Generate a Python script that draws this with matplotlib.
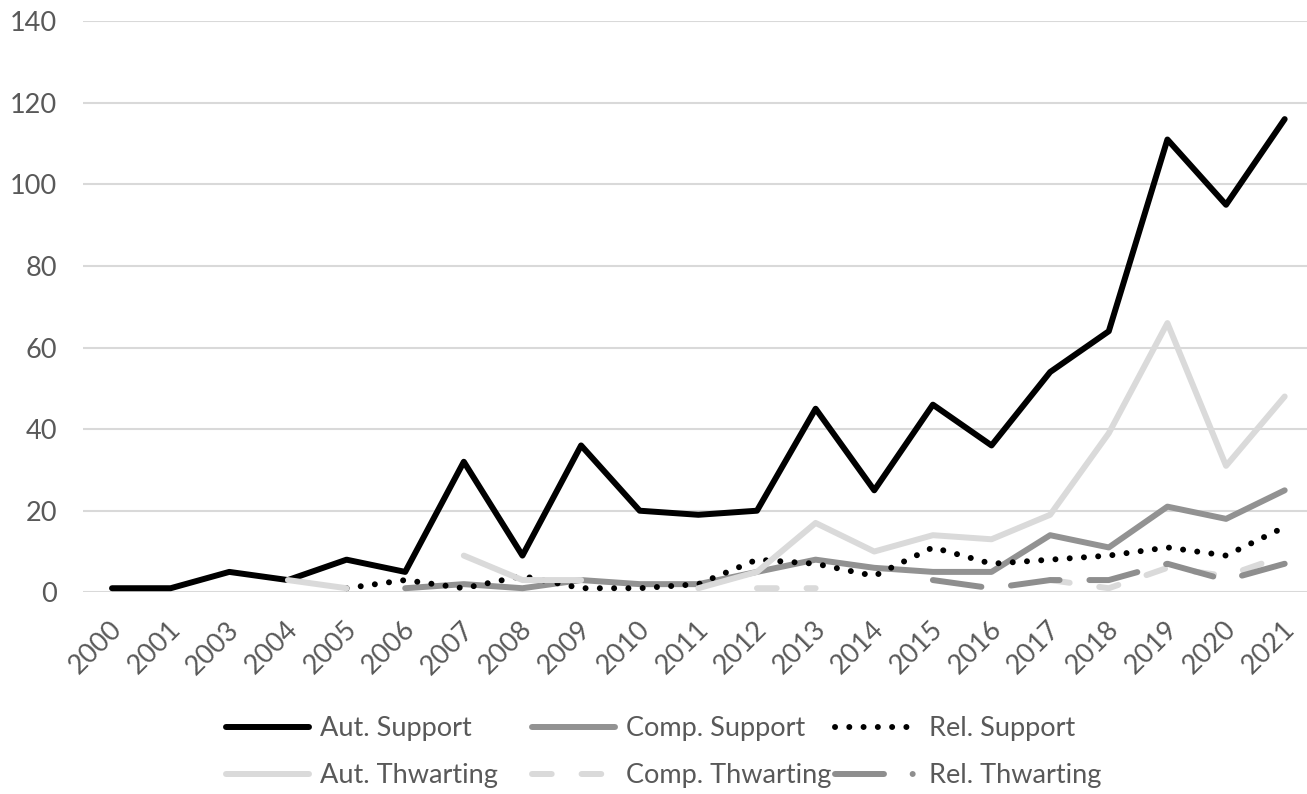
import numpy as np
import matplotlib
matplotlib.use('Agg')
import matplotlib.pyplot as plt
from matplotlib.transforms import ScaledTranslation

plt.rcParams['font.family'] = ['Lato', 'DejaVu Sans']

nan = np.nan
years = ['2000', '2001', '2003', '2004', '2005', '2006', '2007', '2008', '2009', '2010',
         '2011', '2012', '2013', '2014', '2015', '2016', '2017', '2018', '2019', '2020', '2021']

aut_support = [1, 1, 5, 3, 8, 5, 32, 9, 36, 20, 19, 20, 45, 25, 46, 36, 54, 64, 111, 95, 116]
comp_support = [nan, nan, nan, nan, nan, 1, 2, 1, 3, 2, 2, 5, 8, 6, 5, 5, 14, 11, 21, 18, 25]
rel_support = [nan, nan, nan, nan, 1, 3, 1, 4, 1, 1, 2, 8, 7, 4, 11, 7, 8, 9, 11, 9, 16]
aut_thwarting = [nan, nan, nan, 3, 1, nan, 9, 3, 3, nan, 1, 5, 17, 10, 14, 13, 19, 39, 66, 31, 48]
comp_thwarting = [nan] * 11 + [1, 1] + [nan] * 3 + [3, 1, 6, 4, 9]
rel_thwarting = [nan] * 14 + [3, 1, 3, 3, 7, 3, 7]

TXT = '#595959'
GRID = '#d9d9d9'
FS = 19.5
LW = 4.3

W, H = 1307, 794
fig = plt.figure(figsize=(W / 100, H / 100), dpi=100)
ax = fig.add_axes([82.7 / W, 1 - 592.3 / H, (1314 - 82.7) / W, (592.3 - 21.2) / H])

x = np.arange(len(years))
kw = dict(lw=LW, solid_capstyle='round', dash_capstyle='round', solid_joinstyle='round')
l1, = ax.plot(x, aut_support, color='black', label='Aut. Support', **kw)
l2, = ax.plot(x, comp_support, color='#929292', label='Comp. Support', **kw)
l3, = ax.plot(x, rel_support, color='black', ls=(0, (0.01, 2.38)), label='Rel. Support', **kw)
l4, = ax.plot(x, aut_thwarting, color='#dadada', label='Aut. Thwarting', **kw)
l5, = ax.plot(x, comp_thwarting, color='#dadada', ls=(0, (3.3, 5)), label='Comp. Thwarting', **kw)
l6, = ax.plot(x, rel_thwarting, color='#8e8e8e', ls=(0, (8.2, 5)), label='Rel. Thwarting', **kw)

ax.set_xlim(-0.5, len(years) - 0.5)
ax.set_ylim(0, 140)
ax.set_yticks(range(0, 141, 20))
ax.set_xticks(x)
ax.set_xticklabels(years, rotation=45, ha='right', va='center', rotation_mode='anchor')
ax.grid(axis='y', color=GRID, lw=1.5)
ax.set_axisbelow(True)
for s in ax.spines.values():
    s.set_visible(False)
ax.tick_params(axis='both', length=0, labelsize=FS, labelcolor=TXT)
ax.tick_params(axis='y', pad=18.5)
ax.tick_params(axis='x', pad=24)
shift = ScaledTranslation(6 / 100, 0, fig.dpi_scale_trans)
for lbl in ax.get_xticklabels():
    lbl.set_transform(lbl.get_transform() + shift)

# legend: three columns, two rows
cols = [(226, [l1, l4]), (532, [l2, l5]), (835, [l3, l6])]
for xc, hs in cols:
    leg = fig.legend(handles=hs, loc='upper left', bbox_to_anchor=(xc / W, 1 - 716 / H),
                     frameon=False, fontsize=FS, labelcolor=TXT, handlelength=3.07,
                     handletextpad=0.4, borderpad=0, borderaxespad=0, labelspacing=0.82)
    if xc == 835:
        leg.get_lines()[1].set_dashes([8.2, 4.8, 0.01, 4.8])

fig.savefig('out.png', dpi=100)
